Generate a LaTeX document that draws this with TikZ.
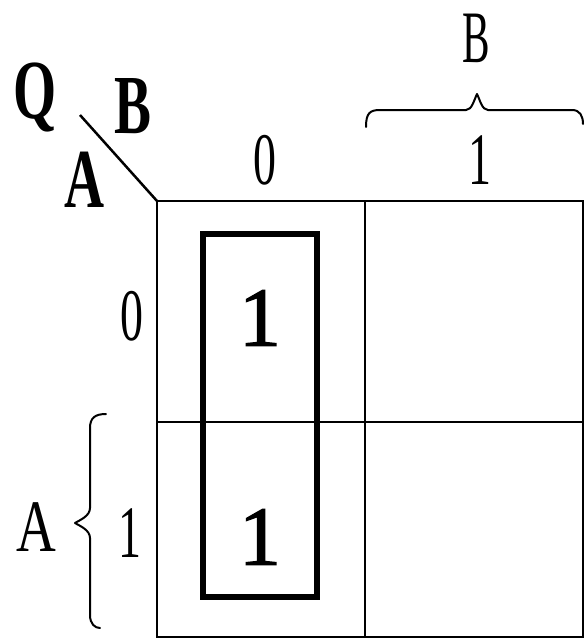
\documentclass[tikz,border=0pt]{standalone}
\usepackage{fontspec}
\setmainfont{Liberation Serif}
\newfontfamily\heavyserif[FakeBold=1.6]{Liberation Serif}
\begin{document}
\begin{tikzpicture}[x=1pt,y=-1pt,
  blbl/.style={inner sep=0pt,font=\fontsize{84}{84}\selectfont\bfseries,xscale=0.66},
  nar/.style={inner sep=0pt,font=\fontsize{74}{74}\selectfont,xscale=0.62},
  cellone/.style={inner sep=0pt,font=\fontsize{84}{84}\heavyserif},
  gridline/.style={line width=2.2pt},
  group/.style={line width=6pt},
  brace/.style={line width=2pt,line cap=round,line join=round}]
\useasboundingbox (0,0) rectangle (585,640);
% grid
\coordinate (TL) at (157,201);
\coordinate (BR) at (583,637);
\draw[gridline] (TL) rectangle (BR);
\coordinate (vt) at (365,201); \coordinate (vb) at (365,637);
\draw[gridline] (vt) -- (vb);
\coordinate (hl) at (157,422); \coordinate (hr) at (583,422);
\draw[gridline] (hl) -- (hr);
% diagonal
\coordinate (dstart) at (80,115);
\draw[line width=2.5pt] (dstart) -- (TL);
% corner labels
\node[blbl,anchor=base] (Q) at (35,118) {Q};
\node[blbl,anchor=base] (Bc) at (133,133) {B};
\node[blbl,anchor=base] (Ac) at (85,207) {A};
% column labels
\node[nar] (c0) at (265,160) {0};
\node[nar] (c1) at (480,160) {1};
\node[nar,xscale=0.9] (Bt) at (476,38) {B};
% row labels
\node[nar] (r0) at (132,316) {0};
\node[nar] (r1) at (130,533) {1};
\node[nar,xscale=1.2] (Al) at (36,527) {A};
% cells
\node[cellone] (m00) at (260,318) {1};
\node[cellone] (m10) at (260,537) {1};
% group
\draw[group] (203,234) rectangle (317,597);
% top brace
\draw[brace] (366,127) .. controls (366,113) and (370,110) .. (380,110)
  -- (466,110) .. controls (472,110) and (474,100) .. (477,94)
  .. controls (480,100) and (482,110) .. (488,110)
  -- (572,110) .. controls (580,110) and (583,116) .. (583,124);
% left brace
\draw[brace] (106,414) .. controls (95,414) and (90,418) .. (90,428)
  -- (90,508) .. controls (90,516) and (80,520) .. (75,523)
  .. controls (80,526) and (90,530) .. (90,538)
  -- (90,615) .. controls (90,624) and (95,628) .. (100,628);
\end{tikzpicture}
\end{document}
